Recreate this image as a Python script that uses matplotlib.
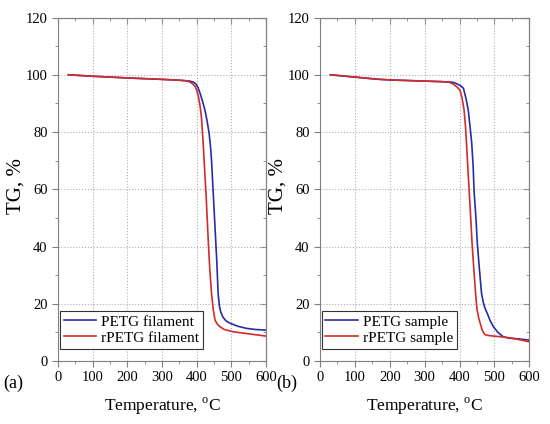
import matplotlib
matplotlib.use('Agg')
import matplotlib.pyplot as plt
from matplotlib.ticker import MultipleLocator, NullFormatter

plt.rcParams['font.family'] = ['Liberation Serif', 'DejaVu Serif']
plt.rcParams['mathtext.fontset'] = 'custom'
plt.rcParams['mathtext.rm'] = 'Liberation Serif'

# (a) filaments
temp_petg_fil = [30, 100, 200, 300, 350, 380, 390, 398, 404, 410, 417, 424, 430, 436, 440, 443,
                 448, 453, 458, 462, 466, 470, 476, 485, 496, 520, 544, 570, 600]
tg_petg_fil = [100, 99.5, 98.9, 98.4, 98.1, 97.8, 97.5, 96.8, 95.5, 93.5, 90.8, 87.7, 84, 79.6, 75, 70.2,
               58.6, 46.9, 35.3, 23.6, 19, 17, 15.3, 14, 13.2, 12.1, 11.4, 11, 10.8]
temp_rpetg_fil = [30, 100, 200, 300, 350, 370, 380, 388, 395, 400, 405, 410, 414, 419, 423, 427, 434,
                  438, 443, 448, 453, 460, 467, 480, 506, 550, 600]
tg_rpetg_fil = [100, 99.5, 98.9, 98.4, 98.1, 97.9, 97.5, 96.9, 96, 94.7, 92.5, 89, 85, 76, 67, 58.6, 41,
                32, 23.6, 18, 14.3, 12.8, 12, 11, 10.2, 9.5, 8.7]

# (b) samples
temp_petg_smp = [30, 100, 160, 200, 300, 350, 380, 390, 398, 405, 411, 418, 425, 430, 435, 439, 442,
                 447, 451, 457, 463, 468, 473, 480, 488, 497, 510, 525, 540, 570, 600]
tg_petg_smp = [100, 99.2, 98.5, 98.2, 97.8, 97.6, 97.4, 97, 96.5, 96, 95.3, 92, 87.7, 82, 76, 68, 58.6,
               50, 41, 32, 23.6, 20.5, 18.4, 16.5, 14, 12, 10, 8.5, 8.0, 7.7, 7.3]
temp_rpetg_smp = [30, 100, 160, 200, 300, 350, 370, 382, 392, 401, 407, 413, 417, 420, 424, 428, 432,
                  436, 441, 446, 450, 455, 459, 465, 472, 478, 490, 516, 550, 600]
tg_rpetg_smp = [100, 99.2, 98.5, 98.2, 97.8, 97.6, 97.4, 96.8, 95.8, 94.7, 92, 87.7, 82, 76, 67, 58.6, 50,
                41, 32, 23.6, 18, 15, 13.2, 10.8, 9.3, 9.0, 8.8, 8.5, 8.0, 6.7]

blue = '#2b2ba6'
red = '#d22b2b'
spine_col = '#808080'


def set_ticks(axis):
    if axis.axis_name == 'x':
        axis.set_major_locator(MultipleLocator(100))
        axis.set_minor_locator(MultipleLocator(50))
    else:
        axis.set_major_locator(MultipleLocator(20))
        axis.set_minor_locator(MultipleLocator(10))


def style_axes(ax):
    ax.set_xlim(0, 600)
    ax.set_ylim(0, 120)
    set_ticks(ax.xaxis)
    set_ticks(ax.yaxis)
    ax.grid(True, which='major', linestyle=':', color='#b0b0b0', linewidth=0.8)
    ax.tick_params(which='both', direction='out', labelsize=10.5, colors=spine_col, labelcolor='black')
    ax.tick_params(which='major', length=4)
    ax.tick_params(which='minor', length=2.5)
    for s in ax.spines.values():
        s.set_color(spine_col)
    # inward ticks on top and right, no labels
    sec_x = ax.secondary_xaxis('top')
    sec_y = ax.secondary_yaxis('right')
    for sec, axis in ((sec_x, sec_x.xaxis), (sec_y, sec_y.yaxis)):
        set_ticks(axis)
        axis.set_major_formatter(NullFormatter())
        axis.set_minor_formatter(NullFormatter())
        sec.tick_params(which='both', direction='in', colors=spine_col)
        sec.tick_params(which='major', length=4)
        sec.tick_params(which='minor', length=2.5)
        for s in sec.spines.values():
            s.set_color(spine_col)
    ax.set_xlabel('Temperature, $^{\\rm o}$C', fontsize=12.5, labelpad=8)
    ax.set_ylabel('TG, %', fontsize=15)
    ax.yaxis.set_label_coords(-0.155, 0.51)


fig = plt.figure(figsize=(5.5, 4.24), dpi=100)
ax1 = fig.add_axes([0.1055, 0.1486, 0.378, 0.81])
ax2 = fig.add_axes([0.5818, 0.1486, 0.3806, 0.81])

panels = [
    (ax1, temp_petg_fil, tg_petg_fil, temp_rpetg_fil, tg_rpetg_fil, 'PETG filament', 'rPETG filament'),
    (ax2, temp_petg_smp, tg_petg_smp, temp_rpetg_smp, tg_rpetg_smp, 'PETG sample', 'rPETG sample'),
]
for ax, t1, g1, t2, g2, lab1, lab2 in panels:
    ax.plot(t1, g1, color=blue, linewidth=1.2, label=lab1)
    ax.plot(t2, g2, color=red, linewidth=1.2, label=lab2)
    style_axes(ax)
    leg = ax.legend(loc='lower left', bbox_to_anchor=(0.008, 0.036), borderaxespad=0,
                    fontsize=11, frameon=True, fancybox=False, framealpha=1,
                    edgecolor='#333333', handlelength=2.1, borderpad=0.25,
                    labelspacing=0.15, handletextpad=0.35)
    leg.get_frame().set_linewidth(0.8)

fig.text(0.005, 0.085, '(a)', fontsize=13)
fig.text(0.502, 0.085, '(b)', fontsize=13)

fig.savefig('out.png', dpi=100)
